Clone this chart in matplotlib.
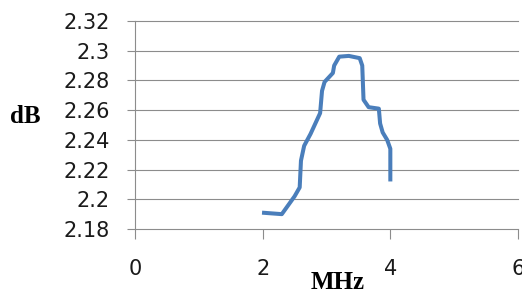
import numpy as np
import matplotlib
matplotlib.use('Agg')
import matplotlib.pyplot as plt

# values
freq_mhz = [1.99, 2.3, 2.5, 2.58, 2.6, 2.65, 2.75, 2.9, 2.93, 2.97, 3.1, 3.12,
            3.2, 3.35, 3.52, 3.56, 3.58, 3.66, 3.82, 3.84, 3.88, 3.95, 4.0, 4.0]
loss_db = [2.191, 2.190, 2.202, 2.208, 2.226, 2.236, 2.244, 2.258, 2.273, 2.279,
           2.285, 2.290, 2.296, 2.2965, 2.295, 2.290, 2.267, 2.262, 2.261, 2.251,
           2.245, 2.240, 2.234, 2.212]
x_ticks = [0, 2, 4, 6]
y_ticks = [2.18, 2.2, 2.22, 2.24, 2.26, 2.28, 2.3, 2.32]
y_tick_labels = ['2.18', '2.2', '2.22', '2.24', '2.26', '2.28', '2.3', '2.32']

grid_color = '#8c8c8c'
line_color = '#4a7ebb'

fig = plt.figure(figsize=(5.22, 2.91), dpi=100)
ax = fig.add_axes([135 / 522, 1 - 229 / 291, 383 / 522, 208 / 291])

# horizontal gridlines (not clipped so the edge ones show fully)
for yv in y_ticks:
    ax.axhline(yv, color=grid_color, linewidth=0.8, zorder=1, clip_on=False)

ax.plot(freq_mhz, loss_db, color=line_color, linewidth=2.9,
        solid_joinstyle='round', solid_capstyle='butt', zorder=3)

ax.set_xlim(0, 6)
ax.set_ylim(2.18, 2.32)
ax.set_xticks(x_ticks)
ax.set_yticks(y_ticks)
ax.set_yticklabels(y_tick_labels)

for side in ['top', 'right', 'bottom']:
    ax.spines[side].set_visible(False)
ax.spines['left'].set_color(grid_color)
ax.spines['left'].set_linewidth(0.8)

ax.tick_params(axis='y', direction='out', length=6, width=0.8, color=grid_color,
               pad=12, labelsize=15, labelcolor='#1a1a1a')
ax.tick_params(axis='x', direction='out', length=7.5, width=0.8, color=grid_color,
               pad=14, labelsize=15, labelcolor='#1a1a1a')

fig.text(25 / 522, 1 - 123 / 291, 'dB', family='Liberation Serif', weight='bold',
         fontsize=18, ha='center', va='baseline')
fig.text(338 / 522, 1 - 289 / 291, 'MHz', family='Liberation Serif', weight='bold',
         fontsize=18, ha='center', va='baseline')

fig.savefig('out.png', dpi=100)
